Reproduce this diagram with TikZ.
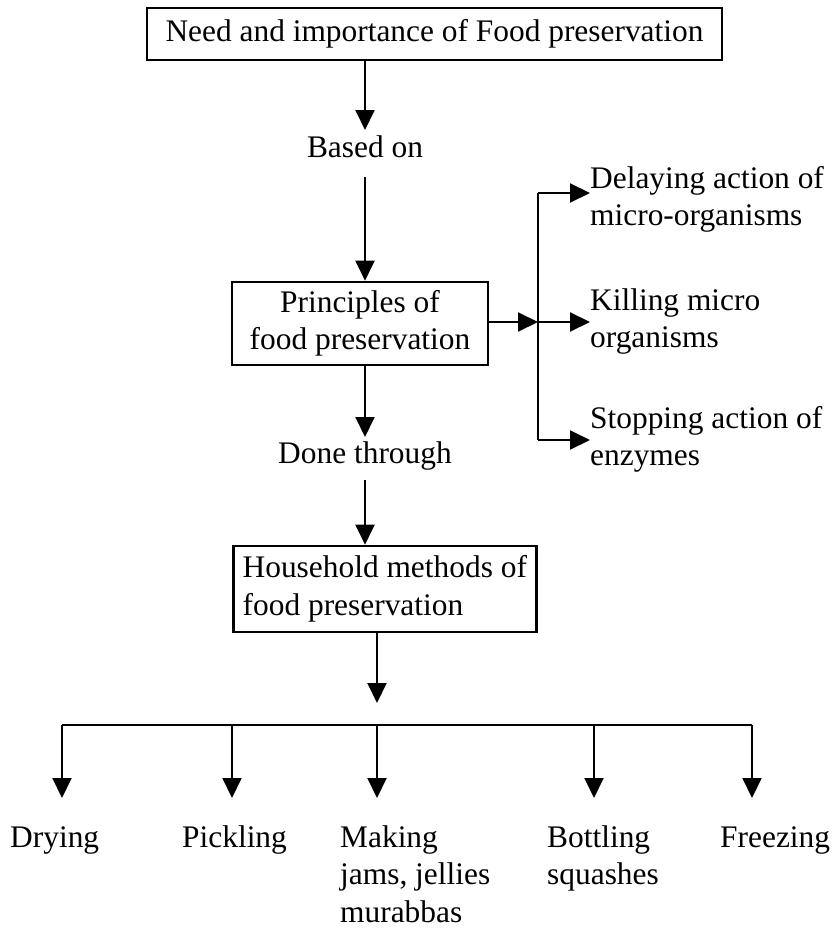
\documentclass[tikz,border=0pt]{standalone}
\usepackage{fontspec}
\setmainfont{Liberation Serif}
\usetikzlibrary{arrows.meta}
\begin{document}
\begin{tikzpicture}[x=1pt,y=-1pt,
  every node/.style={font=\fontsize{31.4}{37.5}\selectfont, inner sep=0pt},
  boxnode/.style={draw, line width=2.6pt},
  conn/.style={line width=2pt, -{Triangle[length=20pt,width=19pt]}},
  plainline/.style={line width=2pt}]
\useasboundingbox (0,0) rectangle (833,929);
% top box
\node[boxnode, minimum width=575pt, minimum height=52pt] (need) at (434.5,34) {Need and importance of Food preservation};
\node[anchor=base] (based) at (365,157) {Based on};
\coordinate (basedtop) at (365,177);
\node[boxnode, minimum width=256pt, minimum height=83pt, align=center] (princ) at (360,323.5) {Principles of\\food preservation};
\draw[conn] (need.south -| 365,0) -- (365,130);
\draw[conn] (basedtop) -- (princ.north -| 365,0);
% right branch
\coordinate (vtop) at (538,193);
\coordinate (vmid) at (538,322);
\coordinate (vbot) at (538,440);
\node[anchor=base west, align=left] (delay) at (590,225.5) {Delaying action of\\micro-organisms};
\node[anchor=base west, align=left] (kill) at (590,347.5) {Killing micro\\organisms};
\node[anchor=base west, align=left] (stop) at (590,465.5) {Stopping action of\\enzymes};
\draw[conn] (princ.east |- vmid) -- (vmid);
\draw[plainline] (vtop) -- (vbot);
\draw[conn] (vtop) -- (delay.west |- vtop);
\draw[conn] (vmid) -- (kill.west |- vmid);
\draw[conn] (vbot) -- (stop.west |- vbot);
% done through
\node[anchor=base] (done) at (365,463) {Done through};
\coordinate (donebot) at (365,480);
\node[boxnode, minimum width=303pt, minimum height=86pt, align=left, inner xsep=9pt, anchor=west] (house) at (232,589) {Household methods of\\food preservation};
\draw[conn] (princ.south -| 365,0) -- (365,437);
\draw[conn] (donebot) -- (house.north -| 365,0);
% bottom
\coordinate (busl) at (62,725);
\coordinate (busr) at (752,725);
\draw[conn] (house.south -| 377,0) -- (377,703);
\draw[plainline] (busl) -- (busr);
\node[anchor=base west] (dry) at (10,847) {Drying};
\node[anchor=base west] (pick) at (182,847) {Pickling};
\node[anchor=base west, align=left] (jam) at (340,922) {Making\\jams, jellies\\murabbas};
\node[anchor=base west, align=left] (bott) at (547,884.5) {Bottling\\squashes};
\node[anchor=base west] (freeze) at (720,847) {Freezing};
\draw[conn] (busl) -- (62,798);
\draw[conn] (232,725) -- (232,798);
\draw[conn] (377,725) -- (377,798);
\draw[conn] (594,725) -- (594,798);
\draw[conn] (busr) -- (752,798);
\end{tikzpicture}
\end{document}
